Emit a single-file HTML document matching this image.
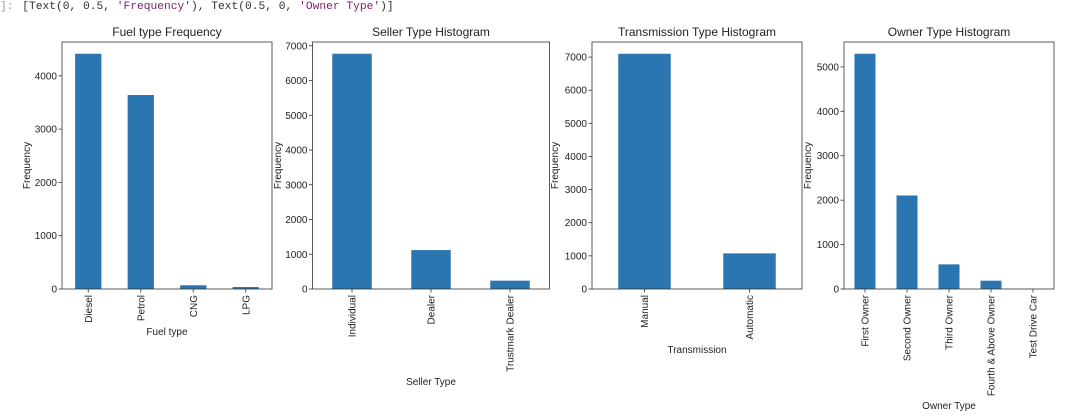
<!DOCTYPE html>
<html><head><meta charset="utf-8"><style>
body{margin:0;background:#fff;width:1087px;height:417px;overflow:hidden}
#out{position:absolute;left:0;top:0;font-family:"Liberation Mono",monospace;font-size:11.25px;white-space:pre;line-height:14px}
svg{position:absolute;left:0;top:0}
text{font-family:"Liberation Sans",sans-serif;fill:#222}
</style></head><body>
<div id="out"><span style="color:#999">]: </span><span style="color:#303030;margin-left:2px">[Text(0, 0.5, <span style="color:#7a1f6e">'Frequency'</span>), Text(0.5, 0, <span style="color:#7a1f6e">'Owner Type'</span>)]</span></div>
<svg id="chart" width="1087" height="417"></svg>
<script>
const fuelCats=["Diesel","Petrol","CNG","LPG"];
const fuelVals=[4414,3640,70,37];
const fuelTicks=[0,1000,2000,3000,4000];
const sellerCats=["Individual","Dealer","Trustmark Dealer"];
const sellerVals=[6770,1120,240];
const sellerTicks=[0,1000,2000,3000,4000,5000,6000,7000];
const transCats=["Manual","Automatic"];
const transVals=[7100,1075];
const transTicks=[0,1000,2000,3000,4000,5000,6000,7000];
const ownerCats=["First Owner","Second Owner","Third Owner","Fourth & Above Owner","Test Drive Car"];
const ownerVals=[5296,2105,555,187,1];
const ownerTicks=[0,1000,2000,3000,4000,5000];

const NS="http://www.w3.org/2000/svg";
const svg=document.getElementById('chart');
function mk(tag,attrs,parent){const e=document.createElementNS(NS,tag);for(const k in attrs)e.setAttribute(k,attrs[k]);(parent||svg).appendChild(e);return e;}
function panel(id,left,right,cats,vals,ticks,title,xlabel,xlabelY,ylabelX){
  const top=42,bottom=289;
  const g=mk('g',{});
  
  
  const ymax=Math.max(...vals)*1.05;
  const y=v=>bottom-(v/ymax)*(bottom-top);
  const band=(right-left)/cats.length;
  const x=i=>left+band*(i+0.5);
  cats.forEach((c,i)=>{
    const r=mk('rect',{x:x(i)-band*0.25,y:y(vals[i]),width:band*0.5,height:bottom-y(vals[i]),fill:'#2b76b0'},g);
    
    
    mk('line',{x1:x(i),x2:x(i),y1:bottom,y2:bottom+3.5,stroke:'#333','stroke-width':0.8},g);
    const t=mk('text',{transform:`translate(${x(i)+3.6},${bottom+6}) rotate(-90)`,'text-anchor':'end','font-size':'10px'},g);
    t.textContent=c;
    
    
  });
  ticks.forEach(v=>{
    mk('line',{x1:left-3.5,x2:left,y1:y(v),y2:y(v),stroke:'#333','stroke-width':0.8},g);
    const t=mk('text',{x:left-5,y:y(v)+3.5,'text-anchor':'end','font-size':'10px'},g);
    t.textContent=v;
    
    
  });
  const fr=mk('rect',{x:left,y:top,width:right-left,height:bottom-top,fill:'none',stroke:'#333','stroke-width':0.8},g);
  
  
  const tt=mk('text',{x:(left+right)/2,y:36,'text-anchor':'middle','font-size':'12px'},g);
  tt.textContent=title;
  
  
  const xl=mk('text',{x:(left+right)/2,y:xlabelY,'text-anchor':'middle','font-size':'10px'},g);
  xl.textContent=xlabel;
  
  
  const yl=mk('text',{transform:`translate(${ylabelX},${(top+bottom)/2}) rotate(-90)`,'text-anchor':'middle','font-size':'10px'},g);
  yl.textContent='Frequency';
  
  
}
panel('fuel',62,272,fuelCats,fuelVals,fuelTicks,'Fuel type Frequency','Fuel type',335,30);
panel('seller',312.5,549.5,sellerCats,sellerVals,sellerTicks,'Seller Type Histogram','Seller Type',385,281);
panel('transmission',592,802,transCats,transVals,transTicks,'Transmission Type Histogram','Transmission',353,558);
panel('owner',844,1054,ownerCats,ownerVals,ownerTicks,'Owner Type Histogram','Owner Type',409,811);
</script>
</body></html>
